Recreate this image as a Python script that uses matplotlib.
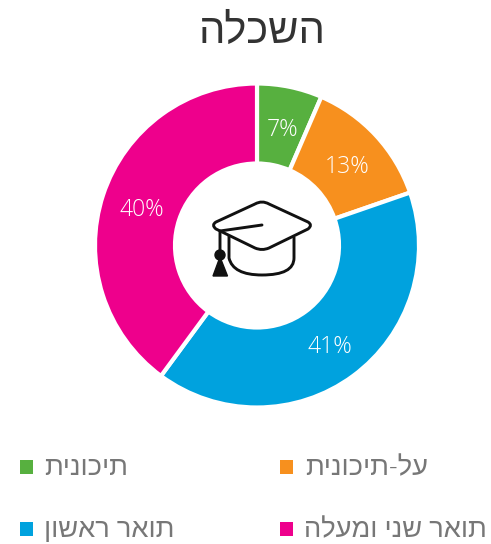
import matplotlib
matplotlib.use("Agg")
import matplotlib.pyplot as plt
from matplotlib.patches import Polygon, Circle, Rectangle, PathPatch
from matplotlib.path import Path

title = "השכלה"
labels = ["תיכונית", "על-תיכונית", "תואר ראשון", "תואר שני ומעלה"]
# slice sizes as measured from the angles, the printed labels are rounded
values = [6.5, 13.2, 40.4, 39.9]
colors = ["#57b03f", "#f7901e", "#00a2de", "#ee008c"]
pct_labels = ["7%", "13%", "41%", "40%"]


def rtl(s):
    # matplotlib has no bidi, so the letters are reversed by hand
    return s[::-1]


plt.rcParams["font.family"] = ["Open Sans", "Liberation Sans", "DejaVu Sans"]

W, H = 491, 544
fig = plt.figure(figsize=(W / 100, H / 100), dpi=100)
ax = fig.add_axes([0, 0, 1, 1])

# y axis runs downwards so everything is in pixels, the pie angles flip with it
ax.pie(
    values,
    colors=colors,
    startangle=-90,
    counterclock=True,
    radius=162,
    center=(257, 245.5),
    wedgeprops=dict(width=80, edgecolor="white", linewidth=3),
    frame=False,
)
ax.set_xlim(0, W)
ax.set_ylim(H, 0)
ax.set_aspect("auto")
ax.axis("off")

ax.text(262, 32, rtl(title), ha="center", va="center", fontsize=30, color="#333333", fontweight="light")

pct_pos = [(283, 130), (347, 167), (330, 347), (142, 210)]
for s, (x, y) in zip(pct_labels, pct_pos):
    ax.text(x, y, s, color="white", ha="center", va="center", fontsize=16.5, fontweight="light")

# legend
legend_square = [(20, 460), (280, 460), (20, 522), (280, 522)]
legend_text_right = [128, 428, 174, 487]
legend_base = [475, 475, 537, 537]
for (x, y), c, s, r, b in zip(legend_square, colors, labels, legend_text_right, legend_base):
    ax.add_patch(Rectangle((x, y), 13.5, 13.5, facecolor=c, edgecolor="none"))
    ax.text(r, b, rtl(s), ha="right", va="baseline", fontsize=19.6, color="#777777", fontweight="light")

# graduation cap icon
k = "#111111"
lw = 2.1
board = Path(
    [(255, 204), (262, 200), (269, 204), (308, 222), (313, 225), (308, 229), (269, 248), (262, 251), (255, 248),
     (216, 229), (211, 225), (216, 222), (255, 204)],
    [Path.MOVETO, Path.CURVE3, Path.CURVE3, Path.LINETO, Path.CURVE3, Path.CURVE3, Path.LINETO, Path.CURVE3, Path.CURVE3,
     Path.LINETO, Path.CURVE3, Path.CURVE3, Path.LINETO],
)
ax.add_patch(PathPatch(board, fill=False, edgecolor=k, lw=lw, joinstyle="round"))
body = Path(
    [(229, 235), (229, 258), (233, 275), (262, 275), (294, 275), (294, 258), (294, 237)],
    [Path.MOVETO, Path.LINETO, Path.CURVE3, Path.CURVE3, Path.CURVE3, Path.CURVE3, Path.LINETO],
)
ax.add_patch(PathPatch(body, fill=False, edgecolor=k, lw=lw))
ax.plot([262, 220, 220], [225, 231, 252], color=k, lw=lw, solid_capstyle="round")
ax.add_patch(Circle((220, 255), 5, color=k))
ax.add_patch(Polygon([(220, 257), (227.5, 276), (213, 276)], closed=True, color=k))

fig.savefig("out.png", dpi=100)
